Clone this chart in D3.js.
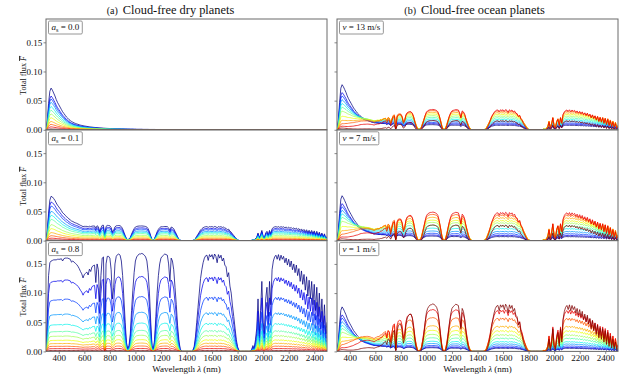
<!DOCTYPE html>
<html><head><meta charset="utf-8">
<script src="https://cdn.jsdelivr.net/npm/d3@7"></script>
<style>
body{margin:0;background:#fff}
svg{display:block;font-family:"Liberation Serif","Times New Roman",serif}
text{font-family:"Liberation Serif","Times New Roman",serif;fill:#111}
</style>
</head><body>
<svg id="chart" width="625" height="384"></svg>
<script>
// ---------- data ----------
const lambdaStart = 300, lambdaStep = 10;   // wavelength grid of the spectra (nm)

// top (dark-blue) curve of the a_s = 0.8 dry panel: surface band structure, 300–2500 nm
const bandFlux = [
0.000,0.060,0.130,0.152,0.155,0.156,0.157,0.157,0.157,0.158,
0.158,0.158,0.159,0.155,0.159,0.160,0.160,0.160,0.159,0.158,
0.153,0.155,0.153,0.151,0.149,0.146,0.142,0.137,0.133,0.126,
0.132,0.134,0.136,0.131,0.141,0.137,0.145,0.147,0.148,0.118,
0.150,0.140,0.085,0.130,0.160,0.162,0.020,0.150,0.163,0.163,
0.160,0.140,0.090,0.110,0.150,0.163,0.166,0.167,0.165,0.155,
0.130,0.090,0.050,0.015,0.005,0.010,0.030,0.070,0.105,0.135,
0.155,0.162,0.165,0.167,0.167,0.168,0.167,0.165,0.162,0.155,
0.135,0.100,0.050,0.010,0.003,0.020,0.060,0.100,0.130,0.150,
0.160,0.163,0.165,0.167,0.166,0.165,0.150,0.120,0.160,0.155,
0.140,0.110,0.080,0.045,0.020,0.005,
0,0,0,0,0,0,0,0,0,
0.002,0.008,0.025,0.050,0.075,0.100,0.125,0.140,0.152,0.160,
0.164,0.165,0.156,0.166,0.162,0.166,0.158,0.167,0.163,0.152,
0.166,0.160,0.165,0.155,0.160,0.148,0.145,0.128,0.135,0.112,
0.100,0.078,0.060,0.040,0.020,0.008,0.002,
0,0,0,0,0,0,0,0,0,
0.003,0.010,0.005,0.020,0.040,0.090,0.030,0.070,0.120,0.050,
0.030,0.090,0.110,0.060,0.120,0.080,0.140,0.155,0.162,0.165,
0.158,0.166,0.156,0.165,0.158,0.163,0.152,0.160,0.148,0.158,
0.145,0.155,0.140,0.150,0.135,0.148,0.130,0.142,0.120,0.138,
0.115,0.132,0.105,0.128,0.095,0.122,0.090,0.120,0.080,0.115,
0.070,0.110,0.060,0.100,0.050,0.090,0.040,0.080,0.030,0.050
];

// top curve of the a_s = 0.0 dry panel: Rayleigh part, 300–1200 nm
const rayleighFlux = [
0.0000,0.0150,0.0450,0.0660,0.0715,0.0680,0.0630,0.0580,0.0520,0.0470,
0.0430,0.0390,0.0350,0.0310,0.0280,0.0250,0.0220,0.0200,0.0175,0.0158,
0.0143,0.0130,0.0118,0.0110,0.0102,0.0094,0.0087,0.0080,0.0075,0.0070,
0.0066,0.0062,0.0058,0.0055,0.0052,0.0049,0.0046,0.0043,0.0041,0.0039,
0.0037,0.0035,0.0033,0.0031,0.0030,0.0028,0.0027,0.0025,0.0024,0.0023,
0.0022,0.0021,0.0020,0.0019,0.0018,0.0017,0.0016,0.0016,0.0015,0.0014,
0.0014,0.0013,0.0012,0.0012,0.0011,0.0011,0.0010,0.0010,0.0010,0.0009,
0.0009,0.0008,0.0008,0.0008,0.0008,0.0008,0.0007,0.0007,0.0007,0.0007,
0.0007,0.0006,0.0006,0.0006,0.0006,0.0006,0.0005,0.0005,0.0005,0.0005,0.0005
];

// fraction of the near-IR glint that survives at short wavelengths (most grazing curve), 300–1100 nm
const glintAtten = [
0,0,0,0.00002,0.00005,0.0001,0.0003,0.0008,0.0015,0.003,
0.005,0.0075,0.010,0.015,0.020,0.025,0.030,0.038,0.050,0.060,
0.070,0.075,0.080,0.088,0.095,0.100,0.105,0.110,0.115,0.118,
0.125,0.135,0.150,0.165,0.180,0.200,0.225,0.250,0.280,0.305,
0.330,0.360,0.390,0.420,0.450,0.480,0.510,0.540,0.570,0.600,
0.620,0.650,0.675,0.700,0.725,0.750,0.770,0.790,0.810,0.830,
0.850,0.865,0.880,0.895,0.905,0.920,0.930,0.945,0.955,0.965,
0.970,0.975,0.980,0.985,0.990,0.993,0.995,0.997,0.998,0.999,1.000
];

// surface signal attenuation at short wavelengths for the a_s = 0.1 panel, 300–700 nm
const surfaceAtten = [
0,0.05,0.10,0.15,0.20,0.30,0.40,0.48,0.55,0.60,
0.65,0.69,0.72,0.75,0.78,0.80,0.82,0.84,0.85,0.86,
0.87,0.88,0.885,0.89,0.90,0.905,0.91,0.915,0.92,0.925,
0.93,0.935,0.94,0.945,0.95,0.955,0.96,0.97,0.98,0.99,1.00
];

const xTicks = [400,600,800,1000,1200,1400,1600,1800,2000,2200,2400];
const yTicks = [0, 0.05, 0.10, 0.15];
const columnTitles = [["(a)", "Cloud-free dry planets"], ["(b)", "Cloud-free ocean planets"]];
const dryLabels = ["0.0", "0.1", "0.8"];
const oceanLabels = ["13", "7", "1"];

// dry panels: weights of Rayleigh and surface parts of the top curve
const dryRayleighWeight = [1, 1, 0];
const drySurfaceWeight  = [0, 0.145, 1];
const dryUsesAtten      = [0, 1, 0];
// dry panels: level of each of the 12 curves relative to the top curve (dark blue -> dark red)
const dryLevels = [
  [1, 0.81, 0.74, 0.66, 0.56, 0.47, 0.38, 0.29, 0.20, 0.13, 0.07, 0.02],
  [1, 0.87, 0.78, 0.66, 0.57, 0.48, 0.36, 0.27, 0.18, 0.11, 0.055, 0.015],
  [1, 0.765, 0.56, 0.40, 0.29, 0.215, 0.165, 0.12, 0.085, 0.055, 0.03, 0.01]
];

// ocean panels: Rayleigh peak flux of each curve, near-IR glint flux per wind speed
const oceanRayleigh = [0.074, 0.060, 0.054, 0.047, 0.040, 0.034, 0.028, 0.020, 0.014, 0.009, 0.006, 0.003];
const oceanGlint = [
  [0.008, 0.010, 0.012, 0.015, 0.018, 0.021, 0.024, 0.027, 0.030, 0.033, 0.035, 0.016],   // 13 m/s
  [0.007, 0.009, 0.012, 0.016, 0.021, 0.026, 0.031, 0.035, 0.040, 0.045, 0.049, 0.027],   // 7 m/s
  [0.0055, 0.007, 0.0095, 0.013, 0.017, 0.023, 0.029, 0.036, 0.044, 0.058, 0.072, 0.082] // 1 m/s
];
const oceanAttenExp = [0.08, 0.09, 0.10, 0.11, 0.12, 0.14, 0.17, 0.20, 0.25, 0.30, 0.50, 1.00];
const oceanPathExp  = [1, 1, 1, 1, 1, 1, 1, 1, 1.1, 1.3, 1.6, 2.2];

// ---------- helpers ----------
function ramp(t, pts){
  for (let i = 1; i < pts.length; i++){
    if (t <= pts[i][0]){
      const [a0, v0] = pts[i-1], [a1, v1] = pts[i];
      return v0 + (v1 - v0) * (t - a0) / (a1 - a0);
    }
  }
  return pts[pts.length-1][1];
}
function jet(t){
  const r = ramp(t, [[0,0],[0.35,0],[0.66,1],[0.89,1],[1,0.5]]);
  const g = ramp(t, [[0,0],[0.125,0],[0.375,1],[0.64,1],[0.91,0],[1,0]]);
  const b = ramp(t, [[0,0.5],[0.11,1],[0.34,1],[0.65,0],[1,0]]);
  return d3.rgb(r*255, g*255, b*255).formatHex();
}
const at = (arr, k, fill) => k < arr.length ? arr[k] : fill;

const nPts = bandFlux.length;
const waves = d3.range(nPts).map(k => lambdaStart + k * lambdaStep);
const bandPeak = d3.max(bandFlux), rayPeak = d3.max(rayleighFlux);
const nCurves = oceanRayleigh.length;

function dryCurves(p){
  const top = waves.map((w, k) =>
    dryRayleighWeight[p] * at(rayleighFlux, k, 0) +
    drySurfaceWeight[p] * bandFlux[k] * (dryUsesAtten[p] ? at(surfaceAtten, k, 1) : 1));
  return dryLevels[p].map(l => waves.map((w, k) => [w, l * top[k]]));
}
function oceanCurves(p){
  return d3.range(nCurves).map(i => waves.map((w, k) => {
    const ray = oceanRayleigh[i] / rayPeak * at(rayleighFlux, k, 0);
    const gl = oceanGlint[p][i] * Math.pow(bandFlux[k] / bandPeak, oceanPathExp[i]) *
               Math.pow(at(glintAtten, k, 1), oceanAttenExp[i]);
    return [w, ray + gl];
  }));
}

// ---------- layout ----------
const svg = d3.select("#chart");
const serif = '"Liberation Serif","Times New Roman",serif';
const colX = [46, 337], plotW = 281, top0 = 19, panelH = 110.8;
const frameColor = "#6a6a6a";

for (let c = 0; c < 2; c++){
  const x = d3.scaleLinear().domain([300, 2500]).range([colX[c], colX[c] + plotW]);
  for (let p = 0; p < 3; p++){
    const yTop = top0 + p * panelH, yBot = yTop + panelH;
    const y = d3.scaleLinear().domain([0, 0.19]).range([yBot, yTop]);
    const id = `clip${c}${p}`;
    svg.append("clipPath").attr("id", id).append("rect")
      .attr("x", colX[c]).attr("y", yTop).attr("width", plotW).attr("height", panelH);
    const g = svg.append("g").attr("clip-path", `url(#${id})`);
    const curves = c === 0 ? dryCurves(p) : oceanCurves(p);
    const line = d3.line().x(d => x(d[0])).y(d => y(d[1]));
    curves.forEach((pts, i) => {
      g.append("path").attr("d", line(pts)).attr("fill", "none")
        .attr("stroke", jet(i / (nCurves - 1))).attr("stroke-width", 0.75)
        .attr("stroke-linejoin", "round");
    });

    // y axis
    const ya = svg.append("g").attr("transform", `translate(${colX[c]},0)`)
      .call(d3.axisLeft(y).tickValues(yTicks).tickSize(2.5).tickPadding(1.2)
        .tickFormat(c === 0 ? d3.format(".2f") : () => ""));
    ya.attr("font-family", serif);
    ya.select(".domain").remove();
    ya.selectAll("line").attr("stroke", frameColor).attr("stroke-width", 0.8);
    ya.selectAll("text").attr("font-size", 9).style("font-family", serif).attr("fill", "#111");

    if (p === 2){
      const xa = svg.append("g").attr("transform", `translate(0,${yBot})`)
        .call(d3.axisBottom(x).tickValues(xTicks).tickSize(2.5).tickPadding(0.8).tickFormat(d3.format("d")));
      xa.attr("font-family", serif);
      xa.select(".domain").remove();
      xa.selectAll("line").attr("stroke", frameColor).attr("stroke-width", 0.8);
      xa.selectAll("text").attr("font-size", 9).style("font-family", serif).attr("fill", "#111");
    }

    // frame
    svg.append("rect").attr("x", colX[c]).attr("y", yTop).attr("width", plotW).attr("height", panelH)
      .attr("fill", "none").attr("stroke", frameColor).attr("stroke-width", 1);

    // legend box
    const lg = svg.append("g");
    const t = lg.append("text").attr("x", colX[c] + 5.5).attr("y", yTop + 11.2).attr("font-size", 9);
    if (c === 0){
      t.append("tspan").attr("font-style", "italic").text("a");
      t.append("tspan").attr("font-size", 6.3).attr("dy", 1.8).text("s");
      t.append("tspan").attr("dy", -1.8).text(" = " + dryLabels[p]);
    } else {
      t.append("tspan").attr("font-style", "italic").text("v");
      t.append("tspan").text(" = " + oceanLabels[p] + " m/s");
    }
    const bw = t.node().getComputedTextLength();
    lg.insert("rect", "text").attr("x", colX[c] + 2.5).attr("y", yTop + 2).attr("width", bw + 6).attr("height", 13)
      .attr("rx", 1.2).attr("fill", "#fff").attr("stroke", "#8a8a8a").attr("stroke-width", 0.9);

    // y label
    if (c === 0){
      const yl = svg.append("text").attr("transform", `translate(26,${(yTop + yBot) / 2 + 1}) rotate(-90)`)
        .attr("text-anchor", "middle").attr("font-size", 8.2);
      yl.append("tspan").text("Total flux ");
      yl.append("tspan").attr("font-style", "italic").style("text-decoration", "overline").text("F");
    }
  }
  // x label
  const xl = svg.append("text").attr("x", colX[c] + plotW / 2).attr("y", 371.5)
    .attr("text-anchor", "middle").attr("font-size", 9);
  xl.append("tspan").text("Wavelength ");
  xl.append("tspan").attr("font-style", "italic").text("λ");
  xl.append("tspan").text(" (nm)");

  // title
  const tt = svg.append("text").attr("x", c === 0 ? 106.7 : 404.3).attr("y", 13.5);
  tt.append("tspan").attr("font-size", 10).text(columnTitles[c][0]);
  tt.append("tspan").attr("font-size", 12.4).attr("dx", 5).text(columnTitles[c][1]);
}
</script>
</body></html>
